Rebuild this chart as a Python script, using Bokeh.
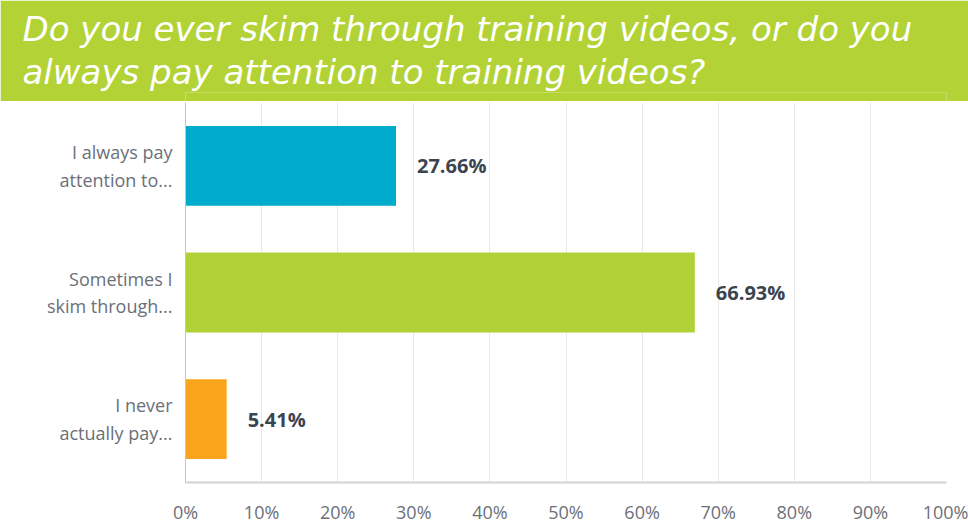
from bokeh.plotting import figure
from bokeh.layouts import column
from bokeh.models import ColumnDataSource, FactorRange, Range1d, FixedTicker, PrintfTickFormatter
from bokeh.core.properties import value
from bokeh.embed import file_html
from bokeh.resources import INLINE

# ---- data ----
title_lines = ["Do you ever skim through training videos, or do you",
               "always pay attention to training videos?"]
categories = ["I always pay\nattention to...",
              "Sometimes I\nskim through...",
              "I never\nactually pay..."]
percentages = [27.66, 66.93, 5.41]
bar_colors = ["#00ABCC", "#B1D236", "#F9A51B"]
x_ticks = [0, 10, 20, 30, 40, 50, 60, 70, 80, 90, 100]

GREEN = "#B2D235"
LABEL_GREY = "#6B7079"
VALUE_GREY = "#3B444F"
FONT = "Open Sans"

W = 968
LEFT = 185
RIGHT_BORDER = 22

# ---- banner (title) ----
banner = figure(width=W, height=101, x_axis_type=None, y_axis_type=None,
                output_backend="svg", toolbar_location=None,
                min_border_left=LEFT, min_border_right=RIGHT_BORDER,
                min_border_top=92, min_border_bottom=0,
                background_fill_color=GREEN, border_fill_color=GREEN,
                outline_line_color=None)
banner.grid.visible = False
banner.title.text = "\n".join(title_lines)
banner.title.align = "left"
banner.title.offset = 22 - LEFT
banner.title.standoff = 0
banner.title.text_color = "white"
banner.title.text_font = "DejaVu Sans"
banner.title.text_font_style = "italic"
banner.title.text_font_size = "34px"
banner.title.text_line_height = 1.08

# ---- chart ----
src = ColumnDataSource(dict(cat=categories, pct=percentages, color=bar_colors,
                            label=[f"{v:.2f}%" for v in percentages]))

p = figure(width=W, height=431, y_range=FactorRange(*categories[::-1]),
           x_range=Range1d(0, 100), output_backend="svg", toolbar_location=None,
           min_border_left=LEFT, min_border_right=RIGHT_BORDER, min_border_top=1,
           min_border_bottom=50, outline_line_color=None,
           background_fill_color="white", border_fill_color="white")

p.hbar(y="cat", right="pct", left=0, height=0.63, fill_color="color",
       line_color=None, source=src)
p.text(x="pct", y="cat", text="label", source=src, x_offset=21,
       text_font=value(FONT), text_font_style="bold", text_font_size="20px",
       text_color=VALUE_GREY, text_baseline="middle", text_align="left")

ticker = FixedTicker(ticks=x_ticks)
p.xaxis.ticker = ticker
p.xgrid.ticker = ticker
p.xaxis.formatter = PrintfTickFormatter(format="%d%%")
p.xaxis.axis_line_color = "#D2D2D2"
p.xaxis.axis_line_width = 2
p.xaxis.major_tick_line_color = None
p.xaxis.minor_tick_line_color = None
p.xaxis.major_tick_out = 0
p.xaxis.major_tick_in = 0
p.xaxis.major_label_standoff = 17
p.xaxis.major_label_text_font = FONT
p.xaxis.major_label_text_font_size = "18px"
p.xaxis.major_label_text_color = LABEL_GREY

p.yaxis.axis_line_color = "#C4C4C4"
p.yaxis.axis_line_width = 1
p.yaxis.major_tick_line_color = None
p.yaxis.minor_tick_line_color = None
p.yaxis.major_tick_out = 0
p.yaxis.major_tick_in = 0
p.yaxis.major_label_standoff = 13
p.yaxis.major_label_text_font = FONT
p.yaxis.major_label_text_font_size = "18px"
p.yaxis.major_label_text_color = LABEL_GREY
p.yaxis.major_label_text_line_height = 1.15

p.xgrid.grid_line_color = "#E8E8E8"
p.xgrid.grid_line_width = 1
p.ygrid.grid_line_color = None

layout = column(banner, p, spacing=0)
open("out.html", "w").write(file_html(layout, INLINE))
